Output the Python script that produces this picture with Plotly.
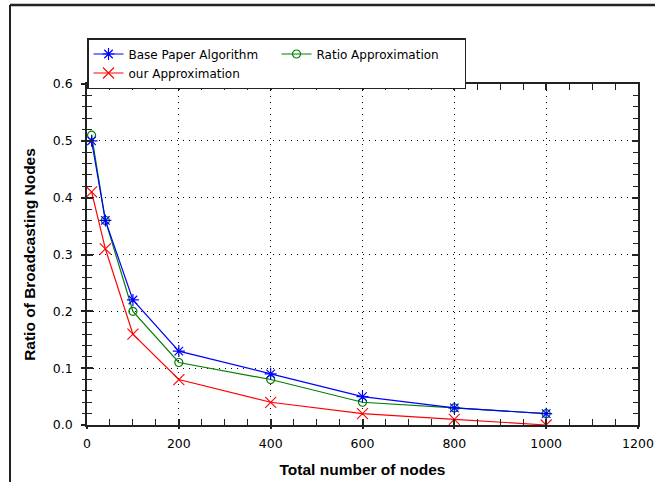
import plotly.graph_objects as go

nodes = [10, 40, 100, 200, 400, 600, 800, 1000]
base_paper = [0.50, 0.36, 0.22, 0.13, 0.09, 0.05, 0.03, 0.02]
ratio_approx = [0.51, 0.36, 0.20, 0.11, 0.08, 0.04, 0.03, 0.02]
our_approx = [0.41, 0.31, 0.16, 0.08, 0.04, 0.02, 0.01, 0.00]

x_ticks = [0, 200, 400, 600, 800, 1000, 1200]
y_ticks = [0.0, 0.1, 0.2, 0.3, 0.4, 0.5, 0.6]

W, H = 656, 483
ML, MR, MT, MB = 87, 18, 84, 58
PW, PH = W - ML - MR, H - MT - MB

fig = go.Figure()
fig.add_trace(go.Scatter(x=nodes, y=our_approx, name="our Approximation", mode="lines+markers",
                         line=dict(color="#ff0000", width=1.2),
                         marker=dict(symbol="x-thin-open", size=11, line=dict(color="#ff0000", width=1.1)),
                         legendrank=3))
fig.add_trace(go.Scatter(x=nodes, y=ratio_approx, name="Ratio Approximation", mode="lines+markers",
                         line=dict(color="#008000", width=1.2),
                         marker=dict(symbol="circle-open", size=8, color="#008000", line=dict(color="#008000", width=1.2)),
                         legendrank=2))
fig.add_trace(go.Scatter(x=nodes, y=base_paper, name="Base Paper Algorithm", mode="lines+markers",
                         line=dict(color="#0000ff", width=1.2),
                         marker=dict(symbol="asterisk-open", size=10, line=dict(color="#0000ff", width=1.2)),
                         legendrank=1))

tickfont = dict(family="DejaVu Sans", size=12.5, color="#000000")
titlefont = dict(family="Liberation Sans, Arial", size=15.5, color="#000000")

# outer frame (decoration), in pixel positions converted to paper fractions
fx0 = (10 - ML) / PW
fx1 = (W - 1 - ML) / PW
fy_top = (H - 5 - MB) / PH
fy_bot = -(MB - 1) / PH

fig.update_layout(
    width=W, height=H,
    margin=dict(l=ML, r=MR, t=MT, b=MB, autoexpand=False),
    paper_bgcolor="white", plot_bgcolor="white",
    xaxis=dict(range=[0, 1200], tickvals=x_ticks, ticktext=[str(v) for v in x_ticks],
               ticks="inside", ticklen=6, tickwidth=1.5, tickcolor="#222",
               mirror="allticks", showline=True, linecolor="#222", linewidth=1.5,
               showgrid=True, gridcolor="#000", gridwidth=1, griddash="1px,5px",
               zeroline=False, tickfont=tickfont, ticklabelstandoff=6,
               minor=dict(dtick=50, tick0=0, ticks="inside", ticklen=6, tickwidth=1.2, tickcolor="#222", showgrid=False),
               title=dict(text="<b>Total number of nodes</b>", font=titlefont, standoff=14),
               automargin=False),
    yaxis=dict(range=[0, 0.6], tickvals=y_ticks, ticktext=["%.1f" % v for v in y_ticks],
               ticks="inside", ticklen=6, tickwidth=1.5, tickcolor="#222",
               mirror="allticks", showline=True, linecolor="#222", linewidth=1.5,
               showgrid=True, gridcolor="#000", gridwidth=1, griddash="1px,5px",
               zeroline=False, tickfont=tickfont, ticklabelstandoff=10,
               minor=dict(dtick=0.02, tick0=0, ticks="inside", ticklen=5, tickwidth=1.2, tickcolor="#222", showgrid=False),
               title=dict(text="<b>Ratio of Broadcasting Nodes</b>", font=titlefont, standoff=13),
               automargin=False),
    xaxis2=dict(overlaying="x", range=[0, 1200], tickvals=x_ticks, showticklabels=False,
                ticks="outside", ticklen=3, tickwidth=1.5, tickcolor="#222",
                showline=False, showgrid=False, zeroline=False, side="bottom"),
    yaxis2=dict(overlaying="y", range=[0, 0.6], tickvals=y_ticks, showticklabels=False,
                ticks="outside", ticklen=5, tickwidth=1.5, tickcolor="#222",
                showline=False, showgrid=False, zeroline=False, side="left",
                minor=dict(dtick=0.02, tick0=0, ticks="outside", ticklen=4, tickwidth=1.2, tickcolor="#222")),
    legend=dict(orientation="h", x=0, y=1 + (MT - 38) / PH, xanchor="left", yanchor="top",
                bgcolor="white", bordercolor="#222", borderwidth=1.5,
                font=dict(family="DejaVu Sans", size=12, color="#000"),
                entrywidth=143, entrywidthmode="pixels", traceorder="normal"),
    showlegend=True,
    shapes=[
        dict(type="line", xref="paper", yref="paper", x0=fx0, x1=fx1, y0=fy_top, y1=fy_top,
             line=dict(color="#222", width=2.5), layer="above"),
        dict(type="line", xref="paper", yref="paper", x0=fx0, x1=fx0, y0=fy_top, y1=fy_bot,
             line=dict(color="#222", width=2), layer="above"),
    ],
)
# dummy trace to activate overlay axes
fig.add_trace(go.Scatter(x=[None], y=[None], xaxis="x2", yaxis="y2", showlegend=False, hoverinfo="skip"))

fig.write_html("out.html", config={"displayModeBar": False},
               post_script="document.body.style.margin='0';")
